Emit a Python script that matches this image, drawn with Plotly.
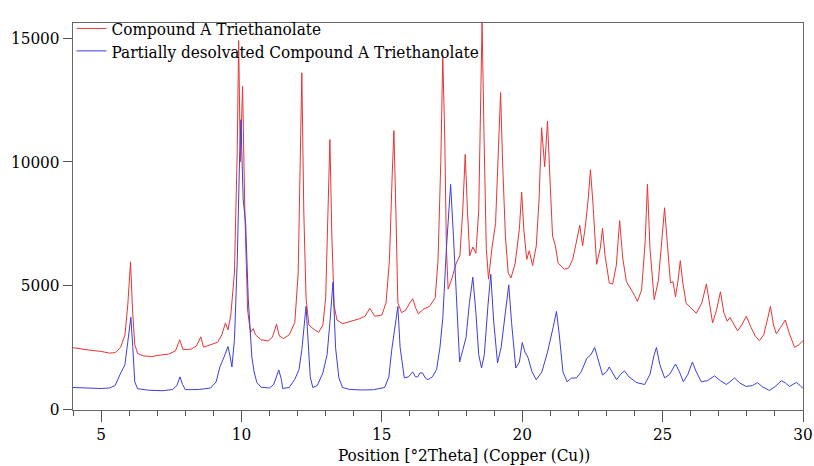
import plotly.graph_objects as go

# Compound A Triethanolate (red) : 2theta, counts
red_x = [4.0, 4.3, 4.6, 5.0, 5.3, 5.5, 5.7, 5.85, 5.95, 6.05, 6.12, 6.2, 6.3, 6.5, 6.8, 7.1, 7.4, 7.65, 7.8, 7.92,
         8.2, 8.4, 8.55, 8.65, 8.9, 9.15, 9.3, 9.43, 9.52, 9.62, 9.75, 9.85, 9.9, 9.96, 10.04, 10.12, 10.22, 10.32,
         10.42, 10.5, 10.7, 10.95, 11.1, 11.25, 11.35, 11.5, 11.7, 11.9, 12.02, 12.1, 12.15, 12.22, 12.3, 12.4,
         12.55, 12.75, 12.9, 13.0, 13.08, 13.15, 13.22, 13.3, 13.4, 13.6, 13.9, 14.2, 14.4, 14.57, 14.75, 15.0,
         15.15, 15.27, 15.37, 15.43, 15.5, 15.57, 15.7, 15.85, 16.0, 16.1, 16.2, 16.3, 16.5, 16.7, 16.9, 17.0,
         17.1, 17.17, 17.24, 17.3, 17.36, 17.5, 17.65, 17.78, 17.88, 17.97, 18.05, 18.13, 18.24, 18.35, 18.45,
         18.52, 18.57, 18.64, 18.72, 18.8, 18.92, 19.05, 19.15, 19.23, 19.3, 19.4, 19.5, 19.6, 19.75, 19.9,
         19.98, 20.06, 20.16, 20.25, 20.37, 20.5, 20.6, 20.69, 20.8, 20.9, 21.0, 21.08, 21.18, 21.28, 21.5,
         21.65, 21.8, 21.95, 22.05, 22.15, 22.25, 22.35, 22.43, 22.52, 22.65, 22.78, 22.86, 22.95, 23.1, 23.22,
         23.35, 23.47, 23.58, 23.71, 23.85, 24.0, 24.1, 24.25, 24.38, 24.46, 24.55, 24.7, 24.85, 24.97, 25.07,
         25.16, 25.28, 25.37, 25.46, 25.55, 25.63, 25.72, 25.84, 26.0, 26.2, 26.4, 26.56, 26.68, 26.78, 26.92,
         27.06, 27.18, 27.3, 27.4, 27.5, 27.67, 27.82, 27.98, 28.15, 28.3, 28.45, 28.6, 28.75, 28.84, 28.95,
         29.05, 29.2, 29.37, 29.5, 29.7, 29.85, 30.0]
red_y = [2480, 2420, 2380, 2330, 2260, 2280, 2500, 3000, 4200, 5950, 4000, 2600, 2250, 2150, 2120, 2180, 2220, 2350, 2800, 2400,
         2420, 2550, 2920, 2500, 2600, 2700, 3000, 3480, 3200, 3800, 5500, 10500, 14900, 10000, 13050, 8000, 4000, 3100,
         3250, 3000, 2800, 2750, 2900, 3430, 2950, 2850, 3000, 3500, 5500, 10000, 13600, 8000, 4500, 3400,
         3250, 3100, 3400, 4500, 7500, 10900, 7000, 4200, 3600, 3450, 3550, 3650, 3750, 4070, 3750, 3800,
         4300, 6000, 9500, 11260, 8000, 4300, 3900, 4000, 4300, 4460, 4100, 3850, 4050, 4150, 4500, 6000,
         10000, 14300, 11000, 6500, 4850, 5300, 5900, 6200, 8000, 10300, 8000, 6200, 6550, 6300, 8000,
         13000, 15650, 11000, 6500, 5250, 6500, 7500, 10500, 12800, 10000, 7000, 5500, 5300, 5900, 7300,
         8770, 7200, 6050, 6400, 5800, 6600, 8500, 11380, 9800, 11650, 9000, 7000, 6600, 5900, 5650,
         5700, 6050, 6800, 7430, 6600, 7400, 8500, 9680, 8300, 5850, 6500, 7310, 6200, 5100, 5050,
         5800, 7620, 6100, 5150, 4900, 4600, 4350, 4800, 6800, 9090, 6500, 4420, 5200, 7000, 8140,
         6800, 5100, 5150, 4540, 5200, 6000, 5100, 4270, 4100, 3870, 4300, 5060, 4200, 3480, 4000,
         4740, 3900, 3550, 3700, 3500, 3160, 3400, 3750, 3300, 2950, 2765, 3000, 3700, 4150, 3400,
         3040, 3300, 3600, 3100, 2490, 2600, 2765]

# Partially desolvated Compound A Triethanolate (blue)
blue_x = [4.0, 4.5, 5.0, 5.3, 5.5, 5.67, 5.85, 5.95, 6.06, 6.13, 6.2, 6.3, 6.7, 7.2, 7.55, 7.7, 7.81, 7.9, 8.0, 8.5,
          8.9, 9.1, 9.23, 9.38, 9.52, 9.6, 9.66, 9.75, 9.85, 9.93, 9.98, 10.06, 10.15, 10.24, 10.37, 10.45, 10.55,
          10.7, 11.0, 11.15, 11.33, 11.42, 11.47, 11.7, 11.9, 12.05, 12.15, 12.3, 12.38, 12.45, 12.54, 12.7, 12.9,
          13.05, 13.15, 13.26, 13.35, 13.47, 13.6, 13.86, 14.3, 14.7, 15.1, 15.25, 15.35, 15.48, 15.57, 15.65,
          15.8, 15.95, 16.1, 16.2, 16.28, 16.36, 16.45, 16.55, 16.64, 16.8, 16.95, 17.07, 17.17, 17.3, 17.45,
          17.55, 17.65, 17.77, 17.88, 18.0, 18.12, 18.24, 18.35, 18.45, 18.55, 18.65, 18.78, 18.88, 18.98,
          19.12, 19.25, 19.4, 19.52, 19.62, 19.77, 19.9, 20.0, 20.1, 20.2, 20.35, 20.5, 20.7, 20.9, 21.1,
          21.22, 21.32, 21.45, 21.6, 21.75, 21.93, 22.1, 22.3, 22.45, 22.58, 22.7, 22.86, 23.0, 23.1, 23.2,
          23.36, 23.5, 23.64, 23.8, 24.07, 24.36, 24.55, 24.7, 24.78, 24.9, 25.07, 25.25, 25.46, 25.6, 25.74,
          25.9, 26.06, 26.2, 26.38, 26.6, 26.85, 27.05, 27.27, 27.4, 27.56, 27.75, 27.98, 28.2, 28.38, 28.55,
          28.8, 29.0, 29.23, 29.38, 29.52, 29.65, 29.77, 29.9, 30.0]
blue_y = [870, 840, 830, 850, 950, 1380, 1800, 2700, 3710, 2500, 1100, 820, 760, 740, 790, 950, 1300, 1000, 780, 790,
          850, 1100, 1700, 2100, 2530, 2100, 1700, 2800, 6000, 10000, 11700, 8500, 7500, 4500, 2100, 1500, 1070,
          880, 850, 1000, 1580, 1200, 830, 870, 1200, 1600, 2400, 4150, 2500, 1300, 870, 950, 1460,
          2200, 3500, 5130, 2500, 1260, 870, 790, 770, 780, 870, 1300, 2370, 3500, 4150, 2500,
          1260, 1300, 1500, 1300, 1300, 1460, 1460, 1250, 1185, 1300, 1600, 2500, 3670, 6500, 9085,
          7000, 4740, 1900, 2370, 2900, 4300, 5330, 3900, 2200, 1660, 2200, 4200, 5450, 3600,
          1860, 2500, 4000, 5020, 3500, 1660, 1900, 2690, 2300, 2100, 1500, 1185, 1500, 2300, 3300,
          3950, 3000, 1500, 1100, 1250, 1260, 1500, 2050, 2200, 2490, 2000, 1380, 1500, 1700, 1500,
          1185, 1400, 1540, 1300, 1070, 990, 1400, 2200, 2490, 1800, 1260, 1400, 1820, 1500, 1100,
          1400, 1900, 1500, 1100, 1150, 1340, 1150, 990, 1100, 1260, 1050, 910, 950, 1070, 900,
          750, 900, 1145, 1050, 910, 1000, 1070, 950, 830]

x_ticks = [5, 10, 15, 20, 25, 30]
y_ticks = [0, 5000, 10000, 15000]
x_title = "Position [°2Theta] (Copper (Cu))"

FONT = "DejaVu Serif Condensed, DejaVu Serif, serif"
FS = 17

fig = go.Figure()
fig.add_trace(go.Scatter(x=red_x, y=red_y, mode="lines", name="Compound A Triethanolate",
                         line=dict(color="rgb(232,52,52)", width=1), legend="legend"))
fig.add_trace(go.Scatter(x=blue_x, y=blue_y, mode="lines", name="Partially desolvated Compound A Triethanolate",
                         line=dict(color="rgb(62,62,222)", width=1), legend="legend2"))

leg_common = dict(x=-0.002, xanchor="left", yanchor="middle", bgcolor="rgba(0,0,0,0)",
                  font=dict(family=FONT, size=FS, color="black"), itemwidth=30, borderwidth=0)

fig.add_annotation(text=x_title, xref="paper", yref="paper", x=0.5356, y=-0.116,
                   xanchor="center", yanchor="middle", showarrow=False,
                   font=dict(family=FONT, size=FS, color="black"))

fig.update_layout(
    width=814, height=466,
    margin=dict(l=73, r=11, t=14, b=56),
    paper_bgcolor="white", plot_bgcolor="white",
    font=dict(family=FONT, size=FS, color="black"),
    showlegend=True,
    legend=dict(y=0.9848, **leg_common),
    legend2=dict(y=0.9268, **leg_common),
    xaxis=dict(range=[4, 30], tickmode="array", tickvals=x_ticks, ticks="outside", ticklen=11,
               tickcolor="#555", showline=True, linecolor="#666", linewidth=1, mirror=True,
               showgrid=False, zeroline=False, ticklabelstandoff=-2, automargin=False,
               ticklabeloverflow="allow",
               tickfont=dict(family=FONT, size=FS),
               minor=dict(dtick=1, ticks="outside", ticklen=5, tickcolor="#555", showgrid=False)),
    yaxis=dict(range=[-40, 15612], tickmode="array", tickvals=y_ticks, ticks="outside", ticklen=9,
               tickformat="d", tickfont=dict(family=FONT, size=FS), automargin=False,
               ticklabeloverflow="allow",
               tickcolor="#555", showline=True, linecolor="#666", linewidth=1, mirror=True,
               showgrid=False, zeroline=False),
)

fig.write_html("out.html")
